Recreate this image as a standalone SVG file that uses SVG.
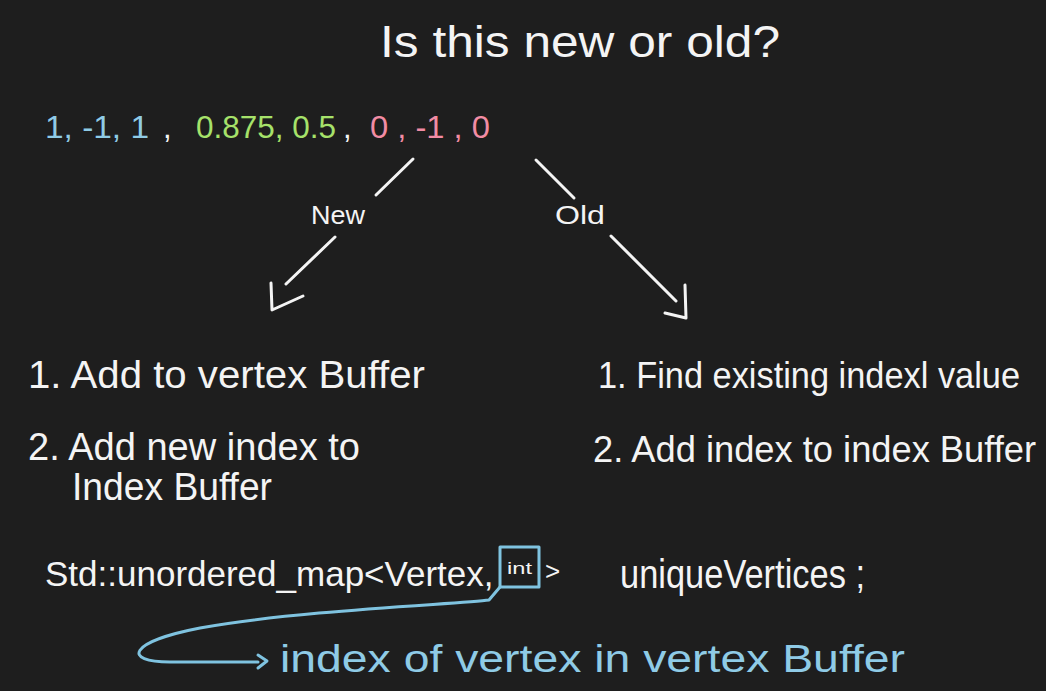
<svg xmlns="http://www.w3.org/2000/svg" width="1046" height="691" viewBox="0 0 1046 691">
<style>
text{font-family:"Liberation Sans","DejaVu Sans",sans-serif;fill:#f4f4f4}
.b{fill:#8fcbe6}.g{fill:#a6e26a}.p{fill:#f28ca4}
.ln{stroke:#f4f4f4;stroke-width:3;fill:none;stroke-linecap:round;stroke-linejoin:round}
.bl{stroke:#7fc3e0;stroke-width:3;fill:none;stroke-linecap:round;stroke-linejoin:round}
</style>
<rect width="1046" height="691" fill="#1e1e1e"/>
<g id="title"><text x="380" y="57" font-size="44" textLength="400" lengthAdjust="spacingAndGlyphs">Is this new or old?</text></g>
<g id="values" font-size="31">
<text class="b" x="45" y="138" textLength="104" lengthAdjust="spacingAndGlyphs">1, -1, 1</text>
<text x="163" y="138">,</text>
<text class="g" x="196" y="138" textLength="140" lengthAdjust="spacingAndGlyphs">0.875, 0.5</text>
<text x="343" y="138">,</text>
<text class="p" x="370" y="138" textLength="120" lengthAdjust="spacingAndGlyphs">0 , -1 , 0</text>
</g>
<g id="connectors">
<line class="ln" x1="413" y1="159" x2="376" y2="195"/>
<line class="ln" x1="335" y1="237" x2="286" y2="284"/>
<polyline class="ln" points="271,283 272,310 303,296"/>
<line class="ln" x1="536" y1="160" x2="574" y2="198"/>
<line class="ln" x1="611" y1="236" x2="676" y2="301"/>
<polyline class="ln" points="685,285 686,318 665,313"/>
<path class="bl" d="M500,587 L489,600 C460,604 300,610 200,628 C128,642 122,662 170,662 L258,662"/>
<polyline class="bl" points="258,655 267,661 258,668"/>
</g>
<g id="new"><text x="311" y="224" font-size="26" textLength="54" lengthAdjust="spacingAndGlyphs">New</text></g>
<g id="old"><text x="555" y="224" font-size="26" textLength="50" lengthAdjust="spacingAndGlyphs">Old</text></g>
<g id="new-steps" font-size="38">
<text x="28" y="388" textLength="397" lengthAdjust="spacingAndGlyphs">1. Add to vertex Buffer</text>
<text x="28" y="460" textLength="332" lengthAdjust="spacingAndGlyphs">2. Add new index to</text>
<text x="72" y="500" textLength="200" lengthAdjust="spacingAndGlyphs">Index Buffer</text>
</g>
<g id="old-steps" font-size="36">
<text x="598" y="388" textLength="422" lengthAdjust="spacingAndGlyphs">1. Find existing indexl value</text>
<text x="593" y="462" textLength="443" lengthAdjust="spacingAndGlyphs">2. Add index to index Buffer</text>
</g>
<g id="map-decl">
<text x="45" y="586" font-size="35">Std::unordered_map&lt;Vertex,</text>
<rect class="bl" x="500" y="547" width="39" height="40" stroke-width="2.5"/>
<text x="507" y="574" font-size="16" textLength="25" lengthAdjust="spacingAndGlyphs">int</text>
<text x="545" y="580" font-size="26">&gt;</text>
<text x="620" y="588" font-size="40" textLength="245" lengthAdjust="spacingAndGlyphs">uniqueVertices ;</text>
</g>
<g id="note"><text class="b" x="280" y="672" font-size="38" textLength="625" lengthAdjust="spacingAndGlyphs">index of vertex in vertex Buffer</text></g>
</svg>
